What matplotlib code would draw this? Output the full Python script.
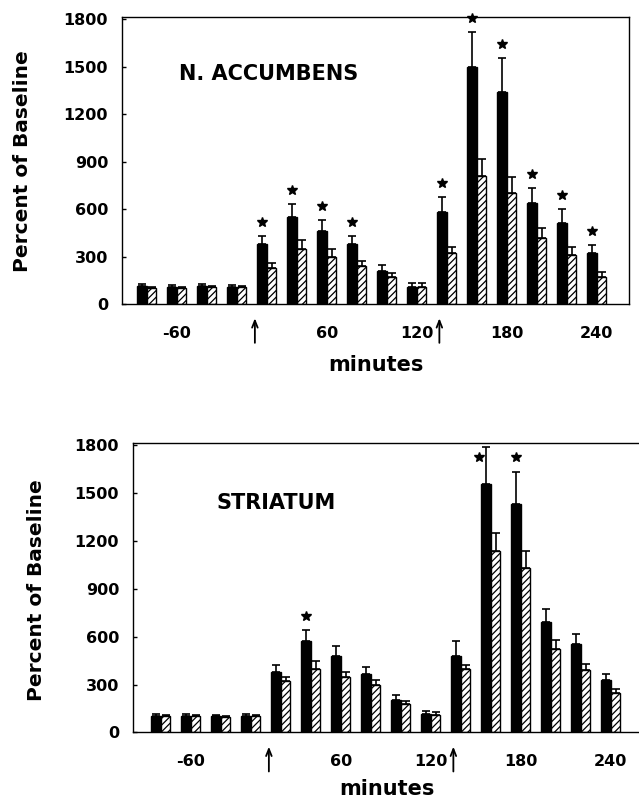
# dopamine overflow, percent of baseline - two panels
import matplotlib
matplotlib.use("Agg")
import matplotlib.pyplot as plt
import numpy as np

# 20-min samples, black = one group, hatched = other
tick_pos = [1, 6, 9, 12, 15]
tick_labels = ["-60", "60", "120", "180", "240"]
inject_at = [3.6, 9.75]

acc_black = [115, 110, 115, 110, 380, 550, 460, 380, 210, 110, 580, 1500, 1340, 640, 510, 320]
acc_black_err = [10, 10, 10, 10, 50, 80, 70, 50, 35, 25, 95, 220, 215, 95, 90, 50]
acc_hatch = [100, 100, 105, 105, 230, 350, 300, 240, 170, 110, 320, 810, 700, 420, 310, 170]
acc_hatch_err = [10, 10, 10, 10, 30, 55, 45, 30, 25, 20, 40, 105, 105, 60, 50, 30]
acc_stars = [4, 5, 6, 7, 10, 11, 12, 13, 14, 15]

str_black = [105, 105, 100, 105, 380, 570, 480, 365, 205, 115, 480, 1560, 1430, 690, 555, 330]
str_black_err = [10, 10, 10, 10, 45, 70, 60, 45, 30, 20, 95, 230, 205, 85, 65, 35]
str_hatch = [100, 100, 95, 100, 320, 400, 345, 300, 175, 110, 395, 1140, 1030, 525, 390, 245]
str_hatch_err = [10, 10, 10, 10, 25, 50, 35, 30, 20, 15, 30, 110, 110, 55, 40, 25]
str_stars = [5, 11, 12]

plt.rcParams["font.family"] = "DejaVu Sans"
plt.rcParams["font.weight"] = "bold"
plt.rcParams["hatch.linewidth"] = 0.9


def panel(ax, black, black_err, hatch, hatch_err, stars, title, title_xy, xlim):
    x = np.arange(len(black))
    w = 0.32
    zeros = np.zeros(len(black))
    ekw = dict(ecolor="black", elinewidth=1.2, capsize=3, capthick=1.2)
    ax.bar(x - w / 2, black, w, color="black", edgecolor="black", linewidth=1,
           yerr=[zeros, black_err], error_kw=ekw)
    ax.bar(x + w / 2, hatch, w, color="white", edgecolor="black", linewidth=1,
           hatch="/////", yerr=[zeros, hatch_err], error_kw=ekw)

    # significance stars above the black bars (beside the bar if no room)
    sx, sy = [], []
    for i in stars:
        top = black[i] + black_err[i]
        if top > 1750:
            sx.append(i - w / 2 - 0.25)
            sy.append(top - 60)
        else:
            sx.append(i - w / 2)
            sy.append(top + 90)
    ax.plot(sx, sy, "*", color="black", ms=7, clip_on=False)

    # injection arrows under the axis
    for xa in inject_at:
        ax.annotate("", xy=(xa, -0.04), xytext=(xa, -0.145),
                    xycoords=ax.get_xaxis_transform(),
                    arrowprops=dict(arrowstyle="->,head_length=0.5,head_width=0.2", lw=1.3, color="black"),
                    annotation_clip=False)

    ax.set_xlim(*xlim)
    ax.set_ylim(0, 1815)
    ax.set_yticks(range(0, 1801, 300))
    ax.set_xticks(tick_pos, tick_labels)
    ax.tick_params(axis="y", direction="in", length=3, width=1, pad=10, labelsize=11.5)
    ax.tick_params(axis="x", length=0, pad=15.5, labelsize=11.5)
    for s in ax.spines.values():
        s.set_linewidth(1)

    ax.text(title_xy[0], title_xy[1], title, transform=ax.transAxes,
            ha="center", va="center", fontsize=15, fontweight="bold")
    ax.set_xlabel("minutes", fontsize=15, fontweight="bold")
    ax.xaxis.label.set_va("baseline")
    ax.set_ylabel("Percent of Baseline", fontsize=14.5, fontweight="bold")
    ax.yaxis.label.set_va("baseline")


fig = plt.figure(figsize=(6.39, 8), dpi=100)
ax1 = fig.add_axes([0.1909, 0.62, 0.7934, 0.35875])
ax2 = fig.add_axes([0.2081, 0.0846, 0.7934, 0.3616])

panel(ax1, acc_black, acc_black_err, acc_hatch, acc_hatch_err, acc_stars,
      "N. ACCUMBENS", (0.289, 0.80), (-0.83, 16.07))
ax1.xaxis.set_label_coords(0.5, -0.232)
ax1.yaxis.set_label_coords(-0.185, 0.498)

panel(ax2, str_black, str_black_err, str_hatch, str_hatch_err, str_stars,
      "STRIATUM", (0.282, 0.791), (-0.93, 15.97))
ax2.xaxis.set_label_coords(0.5, -0.215)
ax2.yaxis.set_label_coords(-0.180, 0.49)

fig.savefig("out.png", dpi=100)
